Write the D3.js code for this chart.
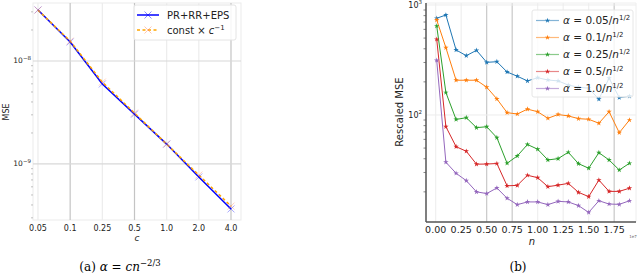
<!DOCTYPE html>
<html lang="en">
<head>
<meta charset="UTF-8">
<title>MSE plots</title>
<script src="https://d3js.org/d3.v7.min.js"></script>
<style>
  body { margin: 0; background: #fff; }
  svg { display: block; font-family: "DejaVu Sans", sans-serif; }
  .cap { font-family: "DejaVu Serif", "Liberation Serif", serif; font-size: 12px; }
</style>
</head>
<body>
<svg id="chart" width="640" height="275"></svg>
<script>
// ---- panel (a) data
const cLabels = ["0.05", "0.1", "0.25", "0.5", "1.0", "2.0", "4.0"];
const mseEps = [3.13e-8, 1.53e-8, 5.98e-9, 3.05e-9, 1.56e-9, 7.48e-10, 3.66e-10];
const mseRef = [3.12e-8, 1.56e-8, 6.24e-9, 3.12e-9, 1.56e-9, 7.8e-10, 3.9e-10];

// ---- panel (b) data
const nVals = [0.01, 0.1, 0.2, 0.3, 0.4, 0.5, 0.6, 0.7, 0.8, 0.9, 1.0, 1.1, 1.2, 1.3, 1.4, 1.5, 1.6, 1.7, 1.8, 1.9];
const alphaLabels = ["0.05", "0.1", "0.25", "0.5", "1.0"];
const rescaled005 = [757, 811, 390, 346, 387, 301, 305, 246, 225, 204, 218, 208, 204, 187, 179, 175, 139, 216, 144, 148];
const rescaled01 = [731, 409, 207, 207, 207, 179, 140, 105, 102, 113, 107, 93.3, 101, 98, 92.6, 91.4, 84.1, 107, 69, 90];
const rescaled025 = [644, 160, 91, 94.5, 76.7, 78.2, 62.2, 36.4, 42.4, 53.9, 48.8, 39, 40.1, 45.8, 36.1, 32.8, 45.4, 39, 31.6, 36.4];
const rescaled05 = [488, 78.3, 51.5, 46.8, 35.7, 35.8, 36.2, 22.7, 22.9, 28.3, 26.9, 22.3, 23.0, 23.9, 19.8, 18.1, 25.6, 20.2, 20.2, 21.6];
const rescaled10 = [314, 37.2, 29.5, 25.3, 20, 19.3, 21.7, 17.5, 15.3, 16.2, 16.2, 15.3, 16.4, 16.2, 15.0, 13.0, 16.6, 15.5, 15.4, 16.6];
const rescaledAll = [rescaled005, rescaled01, rescaled025, rescaled05, rescaled10];
const colors = ["#1f77b4", "#ff7f0e", "#2ca02c", "#d62728", "#9467bd"];

const svg = d3.select("#chart");

function logMinor(lo, hi) {
    const out = [];
    for (let e = Math.floor(lo); e <= Math.ceil(hi); e++) {
        for (let k = 2; k <= 9; k++) {
            const v = k * Math.pow(10, e);
            if (Math.log10(v) >= lo && Math.log10(v) <= hi) out.push(v);
        }
    }
    return out;
}

// ================= panel (a)
const aL = 33, aR = 241, aT = 3, aB = 220;
const xa = d3.scalePoint().domain(cLabels).range([38, 231]);
const ya = d3.scaleLog().domain([Math.pow(10, -9.544), Math.pow(10, -7.437)]).range([aB, aT]);

const ga = svg.append("g");
ga.append("rect").attr("x", aL).attr("y", aT).attr("width", aR - aL).attr("height", aB - aT)
    .attr("fill", "#fff").attr("stroke", "#ebebeb");

// grid
ga.selectAll(".vg").data(cLabels).enter().append("line")
    .attr("x1", d => xa(d)).attr("x2", d => xa(d)).attr("y1", aT).attr("y2", aB)
    .attr("stroke", d => (d === "0.1" || d === "0.5" || d === "4.0") ? "#c4c4c4" : "#ececec")
    .attr("stroke-width", 1.2);
ga.selectAll(".hg").data([1e-8, 1e-9]).enter().append("line")
    .attr("x1", aL).attr("x2", aR).attr("y1", d => ya(d)).attr("y2", d => ya(d))
    .attr("stroke", "#d8d8d8").attr("stroke-width", 1.2);

// y minor ticks
ga.selectAll(".ym").data(logMinor(-9.544, -7.437)).enter().append("line")
    .attr("x1", aL).attr("x2", aL - 2).attr("y1", d => ya(d)).attr("y2", d => ya(d))
    .attr("stroke", "#999").attr("stroke-width", 0.6);

// y labels
[[1e-8, "−8"], [1e-9, "−9"]].forEach(([v, e]) => {
    const t = ga.append("text").attr("x", aL - 2).attr("y", ya(v) + 2.5)
        .attr("text-anchor", "end").attr("font-size", 7.5).attr("fill", "#222");
    t.append("tspan").text("10");
    t.append("tspan").attr("dy", -3).attr("font-size", 5.5).text(e);
});

// x labels
ga.selectAll(".xl").data(cLabels).enter().append("text")
    .attr("x", d => xa(d)).attr("y", 231).attr("text-anchor", "middle")
    .attr("font-size", 8).attr("fill", "#222").text(d => d);
ga.append("text").attr("x", 137).attr("y", 241).attr("text-anchor", "middle")
    .attr("font-size", 9).attr("font-style", "italic").attr("fill", "#222").text("c");
ga.append("text").attr("transform", `translate(9,112) rotate(-90)`).attr("text-anchor", "middle")
    .attr("font-size", 8).attr("fill", "#222").text("MSE");

// lines
const lineA = d3.line().x((d, i) => xa(cLabels[i])).y(d => ya(d));
ga.append("path").datum(mseEps).attr("d", lineA).attr("fill", "none")
    .attr("stroke", "blue").attr("stroke-width", 1.5);
ga.append("path").datum(mseRef).attr("d", lineA).attr("fill", "none")
    .attr("stroke", "orange").attr("stroke-width", 1.5).attr("stroke-dasharray", "3,2.5");

function xMark(g, x, y, col, op) {
    g.append("path").attr("d", `M${x - 3.5},${y - 3.5}L${x + 3.5},${y + 3.5}M${x - 3.5},${y + 3.5}L${x + 3.5},${y - 3.5}`)
        .attr("stroke", col).attr("stroke-opacity", op).attr("stroke-width", 1);
}
mseEps.forEach((d, i) => xMark(ga, xa(cLabels[i]), ya(d), "blue", 0.35));
mseRef.forEach((d, i) => xMark(ga, xa(cLabels[i]), ya(d), "#ff7f50", 0.35));

// legend (a)
const la = ga.append("g");
la.append("rect").attr("x", 134).attr("y", 5).attr("width", 102).attr("height", 35).attr("rx", 2)
    .attr("fill", "#fff").attr("fill-opacity", 0.85).attr("stroke", "#e4e4e4");
la.append("line").attr("x1", 137).attr("x2", 159).attr("y1", 15).attr("y2", 15)
    .attr("stroke", "blue").attr("stroke-width", 1.5);
xMark(la, 148, 15, "blue", 0.45);
la.append("line").attr("x1", 137).attr("x2", 159).attr("y1", 30).attr("y2", 30)
    .attr("stroke", "orange").attr("stroke-width", 1.5).attr("stroke-dasharray", "3,2.5");
xMark(la, 148, 30, "#ff7f50", 0.45);
la.append("text").attr("x", 167).attr("y", 18.5).attr("font-size", 10).attr("fill", "#222").text("PR+RR+EPS");
const lt = la.append("text").attr("x", 167).attr("y", 33.5).attr("font-size", 10).attr("fill", "#222");
lt.append("tspan").text("const × ");
lt.append("tspan").attr("font-style", "italic").text("c");
lt.append("tspan").attr("dy", -4).attr("font-size", 7).text("−1");

// caption (a)
const ca = svg.append("text").attr("class", "cap").attr("x", 120).attr("y", 271).attr("text-anchor", "middle");
ca.append("tspan").text("(a) ");
ca.append("tspan").attr("font-style", "italic").text("α");
ca.append("tspan").text(" = ");
ca.append("tspan").attr("font-style", "italic").text("cn");
ca.append("tspan").attr("dy", -5).attr("font-size", 8.5).text("−2/3");

// ================= panel (b)
const bL = 426, bR = 636, bT = 3, bB = 222;
const xb = d3.scaleLinear().domain([-0.095, 1.964]).range([bL, bR]);
const yb = d3.scaleLog().domain([Math.pow(10, 1.027), Math.pow(10, 3.018)]).range([bB, bT]);
const gb = svg.append("g");

const xTicksB = [0, 0.25, 0.5, 0.75, 1.0, 1.25, 1.5, 1.75];
gb.selectAll(".vg").data(xTicksB).enter().append("line")
    .attr("x1", d => xb(d)).attr("x2", d => xb(d)).attr("y1", bT).attr("y2", bB)
    .attr("stroke", d => (d === 0.5 || d === 0.75 || d === 1.75) ? "#c8c8c8" : "#efefef")
    .attr("stroke-width", 1.2);
gb.selectAll(".hg").data([100, 1000]).enter().append("line")
    .attr("x1", bL).attr("x2", bR).attr("y1", d => yb(d)).attr("y2", d => yb(d))
    .attr("stroke", "#ececec").attr("stroke-width", 1);

// frame
gb.append("line").attr("x1", bL).attr("x2", bR).attr("y1", bT).attr("y2", bT).attr("stroke", "#eee");
gb.append("line").attr("x1", bR).attr("x2", bR).attr("y1", bT).attr("y2", bB).attr("stroke", "#eee");
gb.append("line").attr("x1", bL).attr("x2", bL).attr("y1", bT).attr("y2", bB).attr("stroke", "#555").attr("stroke-width", 1.5);
gb.append("line").attr("x1", bL).attr("x2", bR).attr("y1", bB).attr("y2", bB).attr("stroke", "#555").attr("stroke-width", 1.5);

gb.selectAll(".ym").data(logMinor(1.027, 3.018)).enter().append("line")
    .attr("x1", bL).attr("x2", bL - 2.5).attr("y1", d => yb(d)).attr("y2", d => yb(d))
    .attr("stroke", "#555").attr("stroke-width", 0.7);

[[1000, "3"], [100, "2"]].forEach(([v, e]) => {
    const t = gb.append("text").attr("x", bL - 4).attr("y", yb(v) + 3)
        .attr("text-anchor", "end").attr("font-size", 8).attr("fill", "#222");
    t.append("tspan").text("10");
    t.append("tspan").attr("dy", -3.5).attr("font-size", 5.5).text(e);
});

gb.selectAll(".xl").data(xTicksB).enter().append("text")
    .attr("x", d => xb(d)).attr("y", 233).attr("text-anchor", "middle")
    .attr("font-size", 9.5).attr("fill", "#222").text(d => d3.format(".2f")(d));
gb.append("text").attr("x", 532).attr("y", 245).attr("text-anchor", "middle")
    .attr("font-size", 10).attr("font-style", "italic").attr("fill", "#222").text("n");
gb.append("text").attr("x", 633).attr("y", 238).attr("text-anchor", "middle")
    .attr("font-size", 4).attr("fill", "#666").text("1e7");
gb.append("text").attr("transform", `translate(403,112) rotate(-90)`).attr("text-anchor", "middle")
    .attr("font-size", 10).attr("fill", "#222").text("Rescaled MSE");

const lineB = d3.line().x((d, i) => xb(nVals[i])).y(d => yb(d));
const star = d3.symbol().type(d3.symbolStar).size(9);
rescaledAll.forEach((s, k) => {
    gb.append("path").datum(s).attr("d", lineB).attr("fill", "none")
        .attr("stroke", colors[k]).attr("stroke-width", 1);
    gb.selectAll(".m" + k).data(s).enter().append("path")
        .attr("transform", (d, i) => `translate(${xb(nVals[i])},${yb(d)})`)
        .attr("d", star).attr("fill", colors[k]);
});

// legend (b)
const lb = gb.append("g");
lb.append("rect").attr("x", 532).attr("y", 10).attr("width", 101).attr("height", 87).attr("rx", 2)
    .attr("fill", "#fff").attr("fill-opacity", 0.8).attr("stroke", "#e6e6e6");
alphaLabels.forEach((a, k) => {
    const y = 20.5 + k * 17;
    lb.append("line").attr("x1", 536).attr("x2", 559).attr("y1", y).attr("y2", y)
        .attr("stroke", colors[k]).attr("stroke-width", 1.2).attr("stroke-opacity", 0.55);
    lb.append("path").attr("transform", `translate(547.5,${y})`).attr("d", star).attr("fill", colors[k]);
    const t = lb.append("text").attr("x", 563).attr("y", y + 3.8).attr("font-size", 10.5).attr("fill", "#222");
    t.append("tspan").attr("font-style", "italic").text("α");
    t.append("tspan").text(" = " + a + "/");
    t.append("tspan").attr("font-style", "italic").text("n");
    t.append("tspan").attr("dy", -4.5).attr("font-size", 7).text("1/2");
});

svg.append("text").attr("class", "cap").attr("x", 518).attr("y", 271).attr("text-anchor", "middle").text("(b)");
</script>
</body>
</html>
